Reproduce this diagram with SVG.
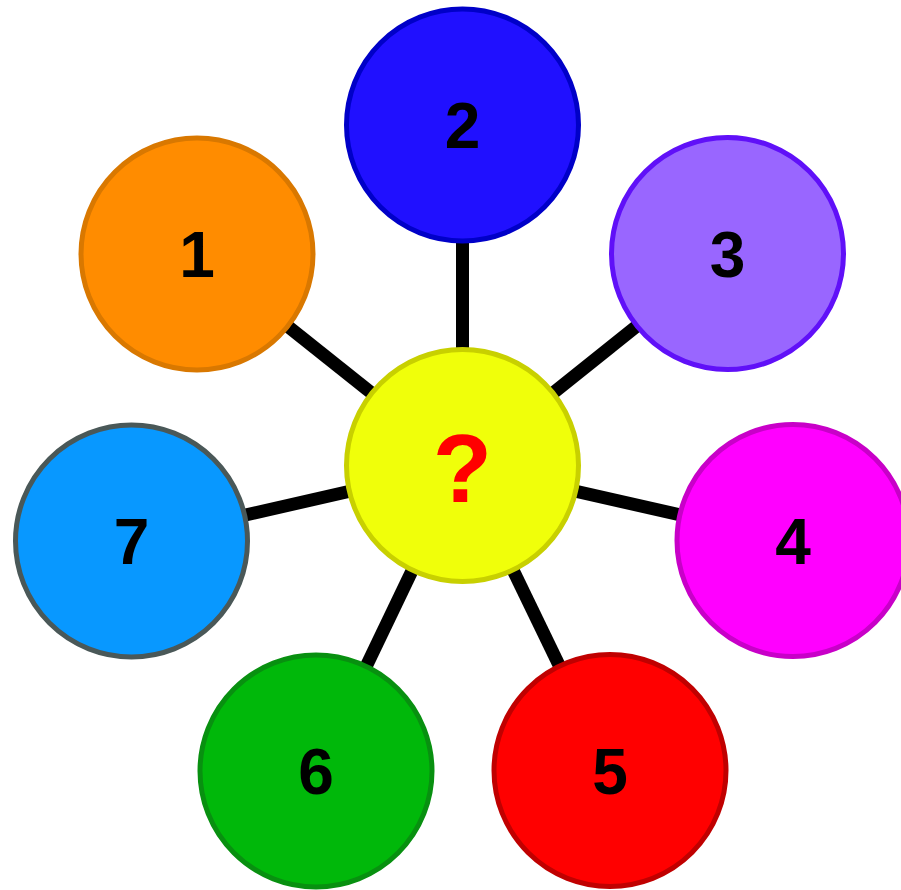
<svg xmlns="http://www.w3.org/2000/svg" width="901" height="890" viewBox="0 0 901 890">
<style>
.node circle{stroke-width:5}
.lbl{font-family:"Liberation Sans",Arial,sans-serif;font-weight:bold;font-size:64px;fill:#000;text-anchor:middle}
.q{font-family:"Liberation Sans",Arial,sans-serif;font-weight:bold;font-size:97px;fill:#ff0000;text-anchor:middle}
.edges line{stroke:#000;stroke-width:13}
</style>
<rect width="901" height="890" fill="#fff"/>
<g class="edges" id="connectors">
<line x1="462.5" y1="465.5" x2="197" y2="254"/>
<line x1="462.5" y1="465.5" x2="462.5" y2="125"/>
<line x1="462.5" y1="465.5" x2="727.5" y2="253.5"/>
<line x1="462.5" y1="465.5" x2="793" y2="540.5"/>
<line x1="462.5" y1="465.5" x2="610" y2="770.5"/>
<line x1="462.5" y1="465.5" x2="316" y2="771"/>
<line x1="462.5" y1="465.5" x2="131.5" y2="541"/>
</g>
<g class="node" id="n1"><circle cx="197" cy="254" r="116" fill="#ff8c00" stroke="#d97800"/><text class="lbl" x="197" y="277">1</text></g>
<g class="node" id="n2"><circle cx="462.5" cy="125" r="116" fill="#2010ff" stroke="#0000c8"/><text class="lbl" x="462.5" y="148">2</text></g>
<g class="node" id="n3"><circle cx="727.5" cy="253.5" r="116" fill="#9966ff" stroke="#6010f8"/><text class="lbl" x="727.5" y="277">3</text></g>
<g class="node" id="n4"><circle cx="793" cy="540.5" r="116" fill="#ff00ff" stroke="#c800c8"/><text class="lbl" x="793" y="564">4</text></g>
<g class="node" id="n5"><circle cx="610" cy="770.5" r="116" fill="#ff0000" stroke="#c00000"/><text class="lbl" x="610" y="794">5</text></g>
<g class="node" id="n6"><circle cx="316" cy="771" r="116" fill="#00b80a" stroke="#089010"/><text class="lbl" x="316" y="794">6</text></g>
<g class="node" id="n7"><circle cx="131.5" cy="541" r="116" fill="#0898ff" stroke="#4a5858"/><text class="lbl" x="131.5" y="564">7</text></g>
<g class="node" id="center"><circle cx="462.5" cy="465.5" r="116" fill="#f0ff0a" stroke="#c8d000"/><text class="q" x="462.5" y="502">?</text></g>
</svg>
